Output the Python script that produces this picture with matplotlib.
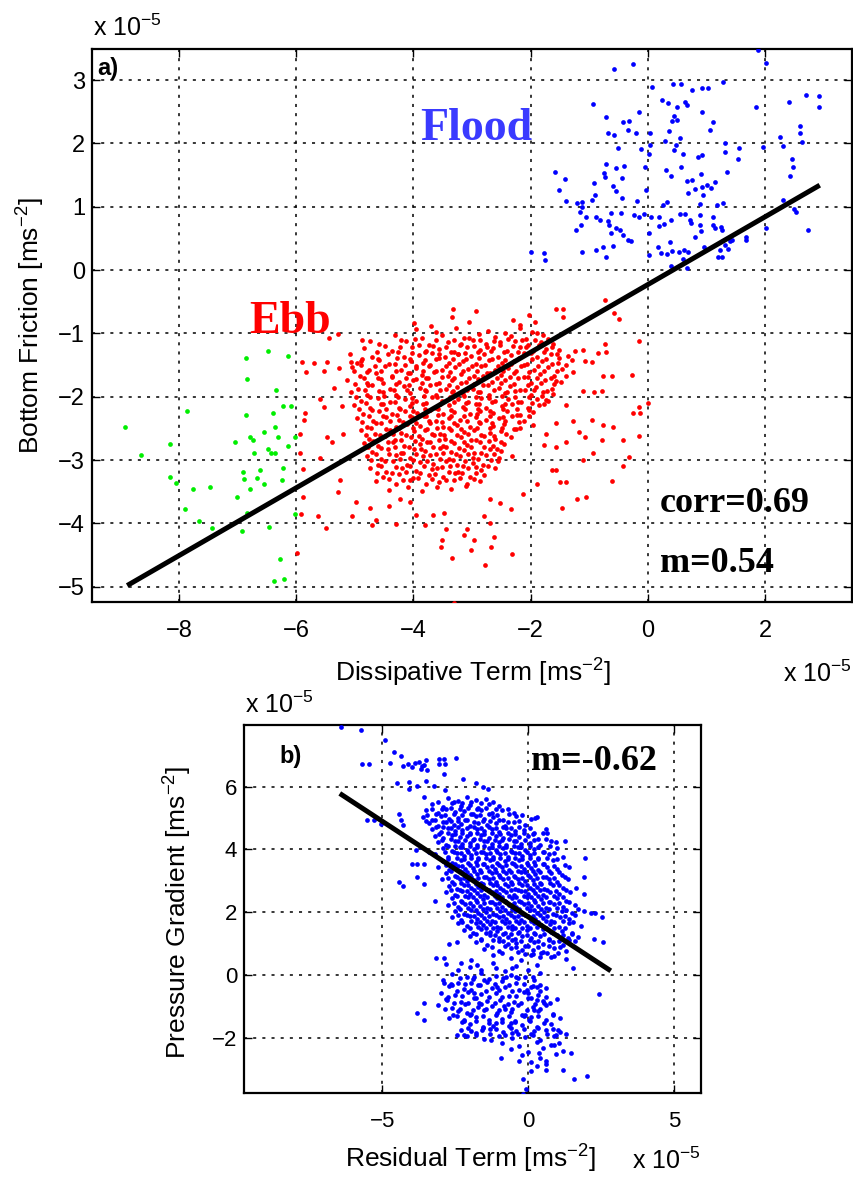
import matplotlib
matplotlib.use("Agg")
import matplotlib.pyplot as plt

plt.rcParams['font.family'] = ['Liberation Sans', 'DejaVu Sans']
plt.rcParams['mathtext.fontset'] = 'custom'
plt.rcParams['mathtext.rm'] = 'Liberation Sans'
plt.rcParams['mathtext.it'] = 'Liberation Sans:italic'
plt.rcParams['mathtext.bf'] = 'Liberation Sans:bold'

# ---------------- panel a data (units of 1e-5 m s^-2) ----------------
flood_pts = [
    (1.88, 3.48), (2.02, 3.27), (-0.58, 3.17), (-0.25, 3.26), (0.07, 2.89), (0.43, 2.93), (0.56, 2.93),
    (0.76, 2.85), (0.92, 2.88), (1.02, 2.87), (1.28, 2.97), (-0.93, 2.62), (0.24, 2.68), (0.34, 2.63),
    (0.50, 2.58), (0.63, 2.65), (0.66, 2.60), (0.92, 2.49), (1.84, 2.57), (2.40, 2.66), (2.70, 2.76),
    (2.91, 2.75), (2.91, 2.58), (-0.72, 2.42), (-0.15, 2.49), (-0.42, 2.34), (-0.33, 2.36), (-0.34, 2.21),
    (-0.68, 2.16), (-0.58, 2.13), (-0.21, 2.16), (0.03, 2.17), (0.41, 2.36), (0.49, 2.37), (0.44, 2.44),
    (0.36, 2.19), (1.11, 2.34), (1.06, 2.21), (0.55, 2.09), (0.29, 2.04), (0.48, 1.98), (0.44, 1.89),
    (0.59, 1.83), (0.03, 1.97), (0.02, 1.83), (-0.12, 1.91), (-0.51, 1.93), (1.31, 2.01), (1.32, 1.86),
    (1.56, 1.92), (1.54, 1.75), (0.85, 1.79), (0.92, 1.82), (1.97, 1.95), (2.25, 2.10), (2.31, 1.96),
    (2.60, 2.28), (2.59, 2.17), (2.63, 2.02), (2.45, 1.75), (2.48, 1.63), (2.43, 1.48), (-1.58, 1.55),
    (-1.42, 1.44), (-1.51, 1.26), (-1.40, 1.09), (-1.21, 1.06), (-1.13, 1.08), (-1.13, 0.99), (-1.16, 0.91),
    (-1.06, 0.83), (-1.23, 0.63), (-1.14, 0.71), (-1.12, 0.29), (-0.96, 1.11), (-0.91, 1.19), (-0.92, 1.38),
    (-0.75, 1.53), (-0.71, 1.67), (-0.73, 1.47), (-0.55, 1.61), (-0.59, 1.32), (-0.55, 1.25), (-0.45, 1.46),
    (-0.40, 1.65), (-0.44, 1.13), (-0.18, 1.09), (-0.05, 1.62), (-0.03, 1.26), (-0.88, 0.83), (-0.81, 0.79),
    (-0.68, 0.78), (-0.63, 0.90), (-0.46, 0.90), (-0.67, 0.71), (-0.54, 0.67), (-0.63, 0.58), (-0.48, 0.64),
    (-0.42, 0.55), (-0.34, 0.47), (-0.29, 0.46), (-0.88, 0.31), (-0.76, 0.37), (-0.60, 0.38), (-0.71, 0.21),
    (-0.24, 0.87), (-0.16, 0.84), (-0.06, 0.88), (0.02, 0.58), (0.02, 0.24), (-1.77, 0.27), (-1.75, 0.16),
    (-2.00, 0.28), (0.31, 1.58), (0.40, 1.49), (0.57, 1.63), (0.66, 1.41), (0.76, 1.42), (0.69, 1.21),
    (0.80, 1.28), (0.90, 1.51), (0.92, 1.31), (1.00, 1.34), (1.07, 1.30), (1.15, 1.39), (0.94, 1.19),
    (1.34, 1.55), (0.25, 1.02), (0.32, 1.07), (0.06, 0.84), (0.19, 0.84), (0.28, 0.72), (0.19, 0.70),
    (0.39, 0.79), (0.54, 0.88), (0.64, 0.89), (0.71, 0.79), (0.74, 0.75), (0.88, 1.05), (0.88, 0.87),
    (0.89, 0.71), (0.81, 0.52), (0.90, 0.62), (1.11, 0.83), (1.11, 0.71), (1.17, 1.03), (1.28, 1.06),
    (1.15, 0.66), (1.25, 0.68), (1.27, 0.63), (0.38, 0.45), (0.18, 0.37), (0.22, 0.27), (0.33, 0.25),
    (0.41, 0.30), (0.53, 0.29), (0.61, 0.32), (0.68, 0.29), (0.60, 0.18), (0.67, 0.04), (0.40, 0.06),
    (0.95, 0.36), (1.23, 0.31), (1.19, 0.21), (1.27, 0.21), (1.32, 0.40), (1.40, 0.46), (1.44, 0.47),
    (1.37, 0.34), (1.68, 0.52), (1.68, 0.47), (2.02, 0.66), (2.30, 1.11), (2.49, 0.96), (2.52, 0.91),
    (2.73, 0.63),
]

green_pts = [
    (-6.48, -1.28), (-6.85, -1.39), (-6.13, -1.36), (-6.84, -1.72), (-6.35, -1.90), (-7.86, -2.23),
    (-6.85, -2.29), (-6.39, -2.26), (-6.22, -2.15), (-6.09, -2.14), (-8.91, -2.48), (-6.36, -2.48),
    (-6.54, -2.56), (-6.78, -2.63), (-6.73, -2.69), (-6.30, -2.63), (-6.02, -2.63), (-7.04, -2.72),
    (-8.15, -2.74), (-6.14, -2.77), (-6.48, -2.83), (-6.43, -2.88), (-6.36, -2.88), (-6.72, -2.88),
    (-8.64, -2.92), (-6.23, -3.12), (-6.91, -3.18), (-6.62, -3.16), (-8.15, -3.26), (-8.05, -3.36),
    (-6.88, -3.30), (-6.67, -3.29), (-6.24, -3.31), (-6.54, -3.37), (-6.79, -3.46), (-7.75, -3.46),
    (-7.47, -3.42), (-7.00, -3.58), (-7.90, -3.77), (-6.84, -3.84), (-6.02, -3.85), (-7.66, -3.96),
    (-7.44, -4.07), (-6.92, -4.12), (-6.47, -4.05), (-6.27, -4.56), (-6.37, -4.91), (-6.21, -4.87),
]

ebb_edge_pts = [
    (-3.32, -0.62), (-2.94, -0.64), (-3.99, -0.84), (-3.34, -0.74), (-2.03, -0.71), (-1.56, -0.61),
    (-1.44, -0.61), (-1.44, -0.74), (-0.74, -0.47), (-0.58, -0.68), (-0.50, -0.78), (-0.15, -1.12),
    (-2.30, -0.79), (-2.18, -0.87), (-1.93, -0.82), (-1.90, -1.00), (-3.70, -0.88), (-3.05, -0.82),
    (-5.90, -1.45), (-5.70, -1.47), (-5.47, -1.45), (-5.83, -1.61), (-5.52, -1.59), (-5.26, -1.54),
    (-5.06, -1.45), (-4.90, -1.44), (-4.88, -1.11), (-4.74, -1.12), (-5.29, -1.01), (-5.44, -1.08),
    (-5.36, -1.86), (-5.60, -2.04), (-5.53, -2.16), (-5.85, -2.25), (-5.87, -2.37), (-5.94, -2.59),
    (-5.48, -2.64), (-5.39, -2.71), (-5.94, -2.89), (-5.60, -2.97), (-5.88, -3.14), (-5.89, -3.58),
    (-5.91, -3.85), (-5.62, -3.88), (-5.49, -4.07), (-5.99, -4.47), (-5.22, -2.14), (-5.20, -2.59),
    (-5.25, -3.31), (-5.28, -3.51), (-4.97, -3.66), (-5.05, -3.89), (-4.71, -4.03), (-4.64, -3.95),
    (-4.74, -3.76), (-4.42, -3.73), (-4.30, -4.01), (-4.23, -3.62), (-4.06, -3.66), (-3.95, -3.87),
    (-3.80, -4.02), (-3.67, -3.87), (-3.48, -3.84), (-3.45, -4.09), (-3.52, -4.26), (-3.53, -4.37),
    (-3.34, -4.55), (-3.14, -4.18), (-3.09, -4.09), (-2.97, -4.26), (-3.01, -4.42), (-2.78, -4.66),
    (-2.67, -4.37), (-2.63, -4.21), (-2.69, -4.00), (-2.79, -3.88), (-2.31, -4.49), (-2.34, -3.77),
    (-2.52, -3.68), (-2.69, -3.61), (-2.13, -3.53), (-1.90, -3.38), (-1.47, -3.76), (-1.50, -3.35),
    (-1.39, -3.35), (-1.21, -3.62), (-1.05, -3.59), (-0.61, -3.33), (-3.31, -5.26), (-1.10, -3.00),
    (-0.93, -2.89), (-0.42, -3.09), (-0.32, -2.95), (-0.43, -2.69), (-0.15, -2.62), (-0.76, -2.44),
    (-0.60, -2.47), (-0.96, -2.36), (-1.17, -2.55), (-1.07, -2.63), (-0.79, -2.68), (-1.40, -2.71),
    (-1.56, -2.79), (-0.26, -2.25), (-0.15, -2.16), (-0.13, -2.25), (0.00, -2.10), (-0.28, -1.66),
    (-0.79, -1.91), (-0.92, -1.92), (-1.10, -1.91), (-0.76, -1.68), (-0.62, -1.67), (-0.73, -1.16),
    (-0.71, -1.29), (-1.10, -1.26), (-1.24, -1.27), (-0.96, -1.45), (-0.85, -1.31), (-1.27, -1.61),
    (-1.07, -1.44), (-1.39, -1.68), (-1.56, -1.75), (-1.62, -1.95), (-1.73, -2.05), (-1.39, -2.13),
    (-1.56, -2.42), (-1.27, -2.39), (-1.74, -2.58), (-1.78, -2.76), (-1.64, -3.15), (-1.56, -3.15),
]

ebb_core_pts = [
    (-3.95, -0.93), (-3.62, -0.98), (-3.28, -0.91), (-2.72, -0.96), (-2.43, -0.99), (-2.18, -0.92), (-1.97, -0.97),
    (-4.32, -1.03), (-3.86, -1.08), (-3.51, -1.02), (-3.14, -1.07), (-2.88, -1.01), (-2.61, -1.06), (-2.33, -1.04),
    (-2.08, -1.09), (-1.79, -1.02),
    (-4.58, -1.17), (-4.12, -1.12), (-3.74, -1.18), (-3.41, -1.13), (-3.19, -1.16), (-2.98, -1.11), (-2.76, -1.17),
    (-2.52, -1.14), (-2.27, -1.12), (-2.04, -1.18), (-1.83, -1.13), (-1.62, -1.16),
    (-4.84, -1.23), (-4.36, -1.28), (-4.02, -1.22), (-3.79, -1.27), (-3.56, -1.24), (-3.31, -1.29), (-3.09, -1.21),
    (-2.86, -1.26), (-2.64, -1.23), (-2.41, -1.28), (-2.19, -1.22), (-1.96, -1.27), (-1.74, -1.24), (-1.51, -1.26),
    (-5.08, -1.33), (-4.71, -1.38), (-4.44, -1.32), (-4.16, -1.37), (-3.91, -1.34), (-3.69, -1.31), (-3.46, -1.38),
    (-3.24, -1.33), (-3.01, -1.36), (-2.79, -1.32), (-2.56, -1.37), (-2.34, -1.34), (-2.11, -1.31), (-1.89, -1.38),
    (-1.66, -1.33), (-1.36, -1.36),
    (-4.96, -1.47), (-4.58, -1.42), (-4.31, -1.48), (-4.04, -1.43), (-3.84, -1.46), (-3.61, -1.41), (-3.39, -1.47),
    (-3.16, -1.44), (-2.94, -1.48), (-2.71, -1.42), (-2.49, -1.46), (-2.29, -1.43), (-2.06, -1.49), (-1.81, -1.44),
    (-1.54, -1.47), (-1.29, -1.42),
    (-5.04, -1.53), (-4.76, -1.58), (-4.49, -1.52), (-4.21, -1.57), (-3.96, -1.54), (-3.74, -1.51), (-3.51, -1.58),
    (-3.29, -1.53), (-3.06, -1.56), (-2.84, -1.52), (-2.61, -1.57), (-2.39, -1.54), (-2.16, -1.51), (-1.94, -1.58),
    (-1.71, -1.53), (-1.46, -1.56),
    (-4.91, -1.67), (-4.64, -1.62), (-4.36, -1.68), (-4.09, -1.63), (-3.86, -1.66), (-3.64, -1.61), (-3.41, -1.67),
    (-3.19, -1.64), (-2.96, -1.68), (-2.74, -1.62), (-2.51, -1.66), (-2.29, -1.63), (-2.04, -1.69), (-1.84, -1.64),
    (-1.61, -1.67),
    (-5.14, -1.73), (-4.79, -1.78), (-4.56, -1.72), (-4.24, -1.77), (-4.01, -1.74), (-3.79, -1.71), (-3.56, -1.78),
    (-3.34, -1.73), (-3.11, -1.76), (-2.89, -1.72), (-2.66, -1.77), (-2.44, -1.74), (-2.21, -1.71), (-1.99, -1.78),
    (-1.76, -1.73), (-1.49, -1.76),
    (-4.94, -1.87), (-4.71, -1.82), (-4.39, -1.88), (-4.16, -1.83), (-3.89, -1.86), (-3.71, -1.81), (-3.44, -1.87),
    (-3.26, -1.84), (-2.99, -1.88), (-2.81, -1.82), (-2.54, -1.86), (-2.36, -1.83), (-2.09, -1.89), (-1.91, -1.84),
    (-1.64, -1.87),
    (-5.06, -1.93), (-4.79, -1.98), (-4.51, -1.92), (-4.29, -1.97), (-4.06, -1.94), (-3.79, -1.91), (-3.61, -1.98),
    (-3.34, -1.93), (-3.16, -1.96), (-2.89, -1.92), (-2.71, -1.97), (-2.44, -1.94), (-2.26, -1.91), (-1.99, -1.98),
    (-1.79, -1.93),
    (-4.89, -2.07), (-4.61, -2.02), (-4.39, -2.08), (-4.14, -2.03), (-3.96, -2.06), (-3.69, -2.01), (-3.51, -2.07),
    (-3.24, -2.04), (-3.06, -2.08), (-2.84, -2.02), (-2.61, -2.06), (-2.39, -2.03), (-2.16, -2.09), (-1.89, -2.04),
    (-1.71, -2.07),
    (-5.01, -2.13), (-4.74, -2.18), (-4.51, -2.12), (-4.24, -2.17), (-4.06, -2.14), (-3.84, -2.11), (-3.61, -2.18),
    (-3.39, -2.13), (-3.16, -2.16), (-2.94, -2.12), (-2.76, -2.17), (-2.49, -2.14), (-2.31, -2.11), (-2.04, -2.18),
    (-1.86, -2.13),
    (-4.86, -2.27), (-4.59, -2.22), (-4.36, -2.28), (-4.14, -2.23), (-3.94, -2.26), (-3.71, -2.21), (-3.49, -2.27),
    (-3.31, -2.24), (-3.04, -2.28), (-2.86, -2.22), (-2.64, -2.26), (-2.41, -2.23), (-2.19, -2.29), (-1.96, -2.24),
    (-4.96, -2.33), (-4.69, -2.38), (-4.46, -2.32), (-4.24, -2.37), (-4.01, -2.34), (-3.79, -2.31), (-3.61, -2.38),
    (-3.39, -2.33), (-3.21, -2.36), (-2.94, -2.32), (-2.76, -2.37), (-2.54, -2.34), (-2.31, -2.31), (-2.11, -2.38),
    (-4.79, -2.47), (-4.56, -2.42), (-4.29, -2.48), (-4.11, -2.43), (-3.89, -2.46), (-3.71, -2.41), (-3.49, -2.47),
    (-3.26, -2.44), (-3.04, -2.48), (-2.86, -2.42), (-2.64, -2.46), (-2.46, -2.43), (-2.19, -2.49), (-1.96, -2.44),
    (-4.89, -2.53), (-4.66, -2.58), (-4.39, -2.52), (-4.21, -2.57), (-3.99, -2.54), (-3.76, -2.51), (-3.54, -2.58),
    (-3.36, -2.53), (-3.14, -2.56), (-2.96, -2.52), (-2.69, -2.57), (-2.51, -2.54), (-2.29, -2.51),
    (-4.76, -2.67), (-4.49, -2.62), (-4.31, -2.68), (-4.04, -2.63), (-3.86, -2.66), (-3.64, -2.61), (-3.46, -2.67),
    (-3.19, -2.64), (-3.01, -2.68), (-2.79, -2.62), (-2.61, -2.66), (-2.34, -2.63),
    (-4.84, -2.73), (-4.61, -2.78), (-4.34, -2.72), (-4.16, -2.77), (-3.89, -2.74), (-3.71, -2.71), (-3.49, -2.78),
    (-3.31, -2.73), (-3.09, -2.76), (-2.86, -2.72), (-2.64, -2.77), (-2.46, -2.74),
    (-4.71, -2.87), (-4.44, -2.82), (-4.21, -2.88), (-3.99, -2.83), (-3.81, -2.86), (-3.54, -2.81), (-3.36, -2.87),
    (-3.14, -2.84), (-2.96, -2.88), (-2.69, -2.82), (-2.51, -2.86),
    (-4.79, -2.93), (-4.56, -2.98), (-4.29, -2.92), (-4.06, -2.97), (-3.84, -2.94), (-3.61, -2.91), (-3.39, -2.98),
    (-3.21, -2.93), (-2.99, -2.96), (-2.76, -2.92), (-2.54, -2.97), (-2.31, -2.94),
    (-4.61, -3.07), (-4.34, -3.02), (-4.11, -3.08), (-3.89, -3.03), (-3.66, -3.06), (-3.44, -3.01), (-3.26, -3.07),
    (-2.99, -3.04), (-2.81, -3.08), (-2.56, -3.02),
    (-4.74, -3.13), (-4.46, -3.18), (-4.19, -3.12), (-3.96, -3.17), (-3.69, -3.14), (-3.51, -3.11), (-3.24, -3.18),
    (-3.06, -3.13), (-2.84, -3.16), (-2.61, -3.12),
    (-4.51, -3.27), (-4.24, -3.22), (-4.01, -3.28), (-3.74, -3.23), (-3.49, -3.26), (-3.29, -3.21), (-3.04, -3.27),
    (-2.79, -3.24),
    (-4.64, -3.33), (-4.29, -3.38), (-4.06, -3.32), (-3.79, -3.37), (-3.56, -3.34), (-3.31, -3.31), (-3.09, -3.38),
    (-2.86, -3.33),
    (-4.41, -3.47), (-4.09, -3.42), (-3.86, -3.48), (-3.59, -3.43), (-3.36, -3.46), (-3.11, -3.41),
    (-3.80, -1.30), (-3.57, -1.32), (-3.35, -1.29), (-3.12, -1.31), (-2.90, -1.30), (-2.68, -1.28),
    (-3.72, -1.50), (-3.45, -1.52), (-3.22, -1.49), (-3.00, -1.51), (-2.78, -1.50), (-2.55, -1.52),
    (-3.75, -1.70), (-3.52, -1.69), (-3.30, -1.71), (-3.05, -1.70), (-2.82, -1.68), (-2.58, -1.71), (-2.35, -1.69),
    (-3.80, -1.90), (-3.55, -1.89), (-3.32, -1.91), (-3.08, -1.90), (-2.86, -1.92), (-2.62, -1.89),
    (-3.78, -2.10), (-3.55, -2.11), (-3.30, -2.09), (-3.10, -2.10), (-2.88, -2.12), (-2.66, -2.09),
    (-3.82, -2.30), (-3.58, -2.29), (-3.36, -2.31), (-3.14, -2.30), (-2.91, -2.28), (-2.69, -2.31),
    (-3.60, -2.50), (-3.39, -2.49), (-3.18, -2.51), (-2.92, -2.50),
]

ebb_fill_pts = [
    (-4.21, -1.10), (-3.98, -1.09), (-3.62, -1.11), (-3.30, -1.10), (-3.05, -1.08), (-2.86, -1.10), (-2.63, -1.12),
    (-2.39, -1.09), (-2.15, -1.10), (-1.92, -1.11), (-1.71, -1.09),
    (-4.49, -1.20), (-4.23, -1.21), (-3.91, -1.19), (-3.67, -1.20), (-3.44, -1.22), (-3.21, -1.19), (-2.97, -1.20),
    (-2.74, -1.21), (-2.53, -1.19), (-2.30, -1.20), (-2.08, -1.22), (-1.86, -1.19), (-1.64, -1.21),
    (-4.62, -1.30), (-4.27, -1.29), (-4.03, -1.31), (-3.24, -1.32), (-2.46, -1.30), (-2.22, -1.29), (-2.00, -1.31),
    (-1.77, -1.30), (-1.55, -1.32),
    (-4.88, -1.40), (-4.60, -1.41), (-4.28, -1.39), (-4.05, -1.40), (-3.80, -1.42), (-3.57, -1.39), (-3.33, -1.40),
    (-3.10, -1.41), (-2.88, -1.39), (-2.66, -1.40), (-2.43, -1.42), (-2.20, -1.39), (-1.97, -1.40), (-1.74, -1.41),
    (-1.52, -1.39),
    (-4.90, -1.50), (-4.66, -1.51), (-4.41, -1.49), (-4.15, -1.50), (-3.95, -1.52), (-2.33, -1.49), (-2.11, -1.50),
    (-1.88, -1.51), (-1.63, -1.49), (-1.40, -1.50),
    (-5.02, -1.60), (-4.79, -1.61), (-4.55, -1.59), (-4.30, -1.60), (-4.05, -1.62), (-3.83, -1.59), (-3.61, -1.60),
    (-3.38, -1.61), (-3.15, -1.59), (-2.92, -1.60), (-2.70, -1.62), (-2.47, -1.59), (-2.25, -1.60), (-2.02, -1.61),
    (-1.78, -1.59), (-1.55, -1.60),
    (-4.85, -1.70), (-4.60, -1.71), (-4.37, -1.69), (-4.12, -1.70), (-3.95, -1.72), (-2.12, -1.69), (-1.90, -1.70),
    (-1.66, -1.71),
    (-5.00, -1.80), (-4.77, -1.81), (-4.51, -1.79), (-4.29, -1.80), (-4.08, -1.82), (-3.85, -1.79), (-3.62, -1.80),
    (-3.40, -1.81), (-3.18, -1.79), (-2.96, -1.80), (-2.73, -1.82), (-2.50, -1.79), (-2.28, -1.80), (-2.05, -1.81),
    (-1.83, -1.79), (-1.60, -1.80),
    (-4.82, -1.90), (-4.58, -1.91), (-4.33, -1.89), (-4.10, -1.90), (-2.40, -1.92), (-2.18, -1.89), (-1.95, -1.90),
    (-1.72, -1.91),
    (-4.98, -2.00), (-4.74, -2.01), (-4.50, -1.99), (-4.27, -2.00), (-4.03, -2.02), (-3.82, -1.99), (-3.60, -2.00),
    (-3.38, -2.01), (-3.14, -1.99), (-2.93, -2.00), (-2.71, -2.02), (-2.49, -1.99), (-2.27, -2.00), (-2.03, -2.01),
    (-1.80, -1.99),
    (-4.80, -2.10), (-4.56, -2.11), (-4.31, -2.09), (-4.03, -2.10), (-2.44, -2.12), (-2.21, -2.09), (-1.98, -2.10),
    (-1.77, -2.11),
    (-4.93, -2.20), (-4.70, -2.21), (-4.46, -2.19), (-4.23, -2.20), (-4.01, -2.22), (-3.80, -2.19), (-3.58, -2.20),
    (-3.35, -2.21), (-3.12, -2.19), (-2.90, -2.20), (-2.69, -2.22), (-2.47, -2.19), (-2.24, -2.20), (-2.02, -2.21),
    (-4.75, -2.30), (-4.52, -2.31), (-4.28, -2.29), (-4.05, -2.30), (-2.47, -2.32), (-2.24, -2.29), (-2.02, -2.30),
    (-4.88, -2.40), (-4.64, -2.41), (-4.40, -2.39), (-4.18, -2.40), (-3.95, -2.42), (-3.74, -2.39), (-3.52, -2.40),
    (-3.31, -2.41), (-3.09, -2.39), (-2.88, -2.40), (-2.66, -2.42), (-2.43, -2.39), (-2.20, -2.40),
    (-4.72, -2.50), (-4.47, -2.51), (-4.24, -2.49), (-4.00, -2.50), (-3.80, -2.52), (-2.70, -2.49), (-2.48, -2.50),
    (-2.25, -2.51),
    (-4.81, -2.60), (-4.57, -2.61), (-4.34, -2.59), (-4.12, -2.60), (-3.90, -2.62), (-3.69, -2.59), (-3.48, -2.60),
    (-3.26, -2.61), (-3.06, -2.59), (-2.85, -2.60), (-2.63, -2.62), (-2.42, -2.59),
    (-4.68, -2.70), (-4.43, -2.71), (-4.21, -2.69), (-3.98, -2.70), (-3.77, -2.72), (-3.56, -2.69), (-3.35, -2.70),
    (-3.13, -2.71), (-2.93, -2.69), (-2.71, -2.70), (-2.50, -2.72),
    (-4.78, -2.80), (-4.55, -2.81), (-4.32, -2.79), (-4.08, -2.80), (-3.87, -2.82), (-3.66, -2.79), (-3.44, -2.80),
    (-3.22, -2.81), (-3.02, -2.79), (-2.80, -2.80), (-2.58, -2.82),
    (-4.64, -2.90), (-4.41, -2.91), (-4.17, -2.89), (-3.95, -2.90), (-3.72, -2.92), (-3.49, -2.89), (-3.28, -2.90),
    (-3.07, -2.91), (-2.85, -2.89), (-2.63, -2.90),
    (-4.72, -3.00), (-4.49, -3.01), (-4.23, -2.99), (-4.00, -3.00), (-3.77, -3.02), (-3.55, -2.99), (-3.33, -3.00),
    (-3.12, -3.01), (-2.90, -2.99), (-2.68, -3.00),
    (-4.55, -3.10), (-4.30, -3.11), (-4.06, -3.09), (-3.82, -3.10), (-3.60, -3.12), (-3.38, -3.09), (-3.16, -3.10),
    (-2.94, -3.11), (-2.72, -3.09),
    (-4.62, -3.20), (-4.37, -3.21), (-4.13, -3.19), (-3.88, -3.20), (-3.63, -3.22), (-3.40, -3.19), (-3.17, -3.20),
    (-2.93, -3.21),
    (-4.41, -3.30), (-4.17, -3.31), (-3.92, -3.29), (-3.68, -3.30), (-3.44, -3.32), (-3.20, -3.29), (-2.97, -3.30),
]

fit_a_x = [-8.88, 2.93]
fit_a_y = [-4.98, 1.34]

# ---------------- panel b data ----------------
pg_edge_pts = [
    (-6.42, 7.90), (-5.74, 7.80), (-4.91, 7.48), (-4.59, 7.09), (-5.68, 6.72), (-5.45, 6.72), (-4.74, 6.74),
    (-4.37, 6.98), (-4.27, 6.67), (-4.11, 6.72), (-3.97, 6.63), (-3.86, 6.74), (-3.74, 6.77), (-3.65, 6.67),
    (-3.51, 6.83), (-3.45, 6.53), (-3.68, 6.56), (-3.57, 6.70), (-3.05, 6.88), (-2.88, 6.88), (-3.05, 6.72),
    (-2.85, 6.72), (-2.48, 6.91), (-2.88, 6.40), (-4.48, 6.11), (-4.08, 6.14), (-4.08, 5.93), (-3.79, 6.03),
    (-3.49, 6.19), (-3.22, 6.03), (-2.86, 5.89), (-2.22, 6.24), (-1.79, 6.12), (-1.53, 5.98), (-1.36, 5.93),
    (-3.57, 5.66), (-5.51, 4.92), (-5.28, 4.92), (-5.05, 4.81), (-4.42, 5.11), (-4.37, 4.92), (-4.27, 4.76),
    (-3.97, 3.54), (-3.79, 3.52), (-3.57, 3.54), (-4.42, 2.96), (-4.30, 2.83), (-3.79, 3.12), (-3.57, 2.91),
    (-3.19, 2.35), (-3.68, 4.07), (-3.85, 3.97), (-3.39, 3.92), (0.24, 5.00), (0.32, 5.03), (0.64, 4.52),
    (0.97, 4.23), (1.27, 4.26), (1.95, 3.74), (1.92, 3.12), (1.63, 2.77), (1.92, 2.59), (2.15, 1.98),
    (2.30, 1.98), (2.53, 1.85), (2.58, 1.06), (2.24, 1.13), (2.41, -0.61), (1.29, 0.50), (1.52, 0.21),
    (1.01, 0.69), (0.78, 0.58), (-3.17, 0.53), (-2.88, 0.53), (-2.71, 1.00), (-2.42, 1.06), (-3.79, -1.22),
    (-3.57, -1.43), (-3.57, -0.88), (-2.88, -0.26), (-2.59, -0.32), (-2.77, -0.79), (-2.56, -1.27),
    (-2.42, -1.90), (-2.19, -1.90), (-1.97, -1.80), (-2.19, -1.48), (-2.08, -1.22), (-1.97, -0.26),
    (-1.85, -0.58), (-1.68, -0.90), (-1.51, -0.16), (-1.57, -1.75), (-1.28, -2.06), (-1.22, -1.64),
    (-1.05, -0.37), (-0.94, -2.65), (-0.82, -1.00), (-0.59, -1.53), (-0.54, -1.85), (-0.31, -2.75),
    (-0.19, -3.33), (-0.08, -3.63), (-0.16, -3.80), (0.09, -3.07), (0.32, -2.91), (0.38, -2.49), (0.61, -2.75),
    (0.61, -3.02), (1.01, -1.75), (0.95, -1.90), (0.89, -2.22), (1.06, -2.17), (1.29, -1.87), (1.46, -2.49),
    (1.58, -3.31), (2.03, -3.21), (1.18, -3.02), (0.21, -1.80), (0.03, -1.43), (-0.14, -1.32), (0.21, -1.11),
    (0.32, -0.37), (0.09, -0.37), (-0.02, -0.58), (0.32, -0.79), (0.55, -0.90), (-0.42, -0.05), (-0.77, -0.05),
    (-1.11, 0.21), (-1.74, 0.32), (-2.31, 0.37), (-1.97, 0.48), (-0.54, 0.21), (-0.25, 0.48), (0.09, 0.63),
    (0.43, 0.69),
]

pg_core_pts = [
    (-2.75, 5.63), (-2.40, 5.55), (-2.10, 5.67), (-1.80, 5.58), (-1.45, 5.61),
    (-3.30, 5.44), (-2.90, 5.35), (-2.60, 5.47), (-2.30, 5.38), (-2.00, 5.41), (-1.70, 5.33), (-1.35, 5.45), (-1.00, 5.37),
    (-3.50, 5.24), (-3.10, 5.15), (-2.80, 5.27), (-2.50, 5.18), (-2.20, 5.21), (-1.90, 5.13), (-1.60, 5.25), (-1.25, 5.17),
    (-0.90, 5.24), (-0.50, 5.15),
    (-3.60, 5.04), (-3.30, 4.95), (-3.00, 5.07), (-2.70, 4.98), (-2.40, 5.01), (-2.10, 4.93), (-1.80, 5.05), (-1.50, 4.97),
    (-1.20, 5.04), (-0.85, 4.95), (-0.40, 5.07), (0.10, 4.98),
    (-3.40, 4.84), (-3.10, 4.75), (-2.80, 4.87), (-2.55, 4.78), (-2.30, 4.81), (-2.00, 4.73), (-1.70, 4.85), (-1.40, 4.77),
    (-1.10, 4.84), (-0.80, 4.75), (-0.50, 4.87), (-0.10, 4.78),
    (-3.30, 4.64), (-3.00, 4.55), (-2.75, 4.67), (-2.50, 4.58), (-2.25, 4.61), (-2.00, 4.53), (-1.75, 4.65), (-1.50, 4.57),
    (-1.25, 4.64), (-1.00, 4.55), (-0.75, 4.67), (-0.45, 4.58), (-0.15, 4.61), (0.20, 4.53), (0.60, 4.65),
    (-3.20, 4.44), (-2.90, 4.35), (-2.60, 4.47), (-2.35, 4.38), (-2.10, 4.41), (-1.85, 4.33), (-1.60, 4.45), (-1.35, 4.37),
    (-1.10, 4.44), (-0.85, 4.35), (-0.60, 4.47), (-0.30, 4.38), (0.00, 4.41), (0.35, 4.33),
    (-3.10, 4.24), (-2.80, 4.15), (-2.50, 4.27), (-2.25, 4.18), (-2.00, 4.21), (-1.75, 4.13), (-1.50, 4.25), (-1.25, 4.17),
    (-1.00, 4.24), (-0.75, 4.15), (-0.50, 4.27), (-0.25, 4.18), (0.05, 4.21), (0.40, 4.13), (0.80, 4.25),
    (-2.90, 4.04), (-2.60, 3.95), (-2.35, 4.07), (-2.10, 3.98), (-1.85, 4.01), (-1.60, 3.93), (-1.35, 4.05), (-1.10, 3.97),
    (-0.85, 4.04), (-0.60, 3.95), (-0.35, 4.07), (-0.10, 3.98), (0.20, 4.01), (0.55, 3.93), (1.00, 4.05),
    (-3.20, 3.84), (-2.75, 3.75), (-2.45, 3.87), (-2.20, 3.78), (-1.95, 3.81), (-1.70, 3.73), (-1.45, 3.85), (-1.20, 3.77),
    (-0.95, 3.84), (-0.70, 3.75), (-0.45, 3.87), (-0.20, 3.78), (0.05, 3.81), (0.35, 3.73), (0.70, 3.85), (1.20, 3.77),
    (-2.90, 3.64), (-2.60, 3.55), (-2.30, 3.67), (-2.05, 3.58), (-1.80, 3.61), (-1.55, 3.53), (-1.30, 3.65), (-1.05, 3.57),
    (-0.80, 3.64), (-0.55, 3.55), (-0.30, 3.67), (-0.05, 3.58), (0.20, 3.61), (0.50, 3.53), (0.85, 3.65),
    (-3.10, 3.44), (-2.70, 3.35), (-2.40, 3.47), (-2.15, 3.38), (-1.90, 3.41), (-1.65, 3.33), (-1.40, 3.45), (-1.15, 3.37),
    (-0.90, 3.44), (-0.65, 3.35), (-0.40, 3.47), (-0.15, 3.38), (0.10, 3.41), (0.35, 3.33), (0.65, 3.45), (1.00, 3.37),
    (1.40, 3.44),
    (-2.80, 3.24), (-2.50, 3.15), (-2.25, 3.27), (-2.00, 3.18), (-1.75, 3.21), (-1.50, 3.13), (-1.25, 3.25), (-1.00, 3.17),
    (-0.75, 3.24), (-0.50, 3.15), (-0.25, 3.27), (0.00, 3.18), (0.25, 3.21), (0.50, 3.13), (0.80, 3.25), (1.15, 3.17),
    (-2.95, 3.04), (-2.60, 2.95), (-2.35, 3.07), (-2.10, 2.98), (-1.85, 3.01), (-1.60, 2.93), (-1.35, 3.05), (-1.10, 2.97),
    (-0.85, 3.04), (-0.60, 2.95), (-0.35, 3.07), (-0.10, 2.98), (0.15, 3.01), (0.40, 2.93), (0.70, 3.05), (1.00, 2.97),
    (1.35, 3.04),
    (-2.70, 2.84), (-2.45, 2.75), (-2.20, 2.87), (-1.95, 2.78), (-1.70, 2.81), (-1.45, 2.73), (-1.20, 2.85), (-0.95, 2.77),
    (-0.70, 2.84), (-0.45, 2.75), (-0.20, 2.87), (0.05, 2.78), (0.30, 2.81), (0.55, 2.73), (0.85, 2.85), (1.20, 2.77),
    (-2.80, 2.64), (-2.50, 2.55), (-2.25, 2.67), (-2.00, 2.58), (-1.75, 2.61), (-1.50, 2.53), (-1.25, 2.65), (-1.00, 2.57),
    (-0.75, 2.64), (-0.50, 2.55), (-0.25, 2.67), (0.00, 2.58), (0.25, 2.61), (0.50, 2.53), (0.75, 2.65), (1.05, 2.57),
    (1.45, 2.64),
    (-2.60, 2.44), (-2.30, 2.35), (-2.05, 2.47), (-1.80, 2.38), (-1.55, 2.41), (-1.30, 2.33), (-1.05, 2.45), (-0.80, 2.37),
    (-0.55, 2.44), (-0.30, 2.35), (-0.05, 2.47), (0.20, 2.38), (0.45, 2.41), (0.70, 2.33), (1.00, 2.45), (1.30, 2.37),
    (-2.75, 2.24), (-2.40, 2.15), (-2.15, 2.27), (-1.90, 2.18), (-1.65, 2.21), (-1.40, 2.13), (-1.15, 2.25), (-0.90, 2.17),
    (-0.65, 2.24), (-0.40, 2.15), (-0.15, 2.27), (0.10, 2.18), (0.35, 2.21), (0.60, 2.13), (0.90, 2.25), (1.20, 2.17),
    (1.60, 2.24),
    (-2.50, 2.04), (-2.20, 1.95), (-1.95, 2.07), (-1.70, 1.98), (-1.45, 2.01), (-1.20, 1.93), (-0.95, 2.05), (-0.70, 1.97),
    (-0.45, 2.04), (-0.20, 1.95), (0.05, 2.07), (0.30, 1.98), (0.55, 2.01), (0.85, 1.93), (1.15, 2.05), (1.50, 1.97),
    (1.90, 2.04),
    (-2.60, 1.84), (-2.30, 1.75), (-2.00, 1.87), (-1.75, 1.78), (-1.50, 1.81), (-1.25, 1.73), (-1.00, 1.85), (-0.75, 1.77),
    (-0.50, 1.84), (-0.25, 1.75), (0.00, 1.87), (0.25, 1.78), (0.50, 1.81), (0.80, 1.73), (1.10, 1.85), (1.40, 1.77),
    (-2.40, 1.64), (-2.10, 1.55), (-1.80, 1.67), (-1.55, 1.58), (-1.30, 1.61), (-1.05, 1.53), (-0.80, 1.65), (-0.55, 1.57),
    (-0.30, 1.64), (-0.05, 1.55), (0.20, 1.67), (0.45, 1.58), (0.75, 1.61), (1.05, 1.53), (1.40, 1.65), (1.80, 1.57),
    (-2.20, 1.44), (-1.90, 1.35), (-1.60, 1.47), (-1.30, 1.38), (-1.05, 1.41), (-0.80, 1.33), (-0.55, 1.45), (-0.30, 1.37),
    (-0.05, 1.44), (0.20, 1.35), (0.50, 1.47), (0.80, 1.38), (1.15, 1.41), (1.50, 1.33),
    (-2.00, 1.24), (-1.60, 1.15), (-1.30, 1.27), (-1.00, 1.18), (-0.70, 1.21), (-0.45, 1.13), (-0.20, 1.25), (0.10, 1.17),
    (0.40, 1.24), (0.70, 1.15), (1.00, 1.27), (1.35, 1.18), (1.70, 1.21),
    (-1.80, 1.04), (-1.40, 0.95), (-1.00, 1.07), (-0.70, 0.98), (-0.40, 1.01), (-0.10, 0.93), (0.20, 1.05), (0.50, 0.97),
    (0.85, 1.04), (1.20, 0.95), (1.60, 1.07),
    (-1.50, 0.84), (-1.00, 0.75), (-0.60, 0.87), (-0.20, 0.78), (0.15, 0.81), (0.50, 0.73), (0.90, 0.85), (1.30, 0.77),
    (-1.20, 0.64), (-0.60, 0.55), (-0.10, 0.67), (0.40, 0.58), (0.90, 0.61),
    (-2.80, 0.34), (-2.00, 0.25), (-1.20, 0.37), (-0.40, 0.28), (0.30, 0.31),
    (-2.60, 0.04), (-2.10, -0.05), (-1.60, 0.07), (-1.10, -0.02), (-0.60, 0.01), (-0.10, -0.07), (0.40, 0.05),
    (-2.90, -0.16), (-2.40, -0.25), (-1.90, -0.13), (-1.40, -0.22), (-0.90, -0.19), (-0.40, -0.27), (0.20, -0.15),
    (-2.70, -0.36), (-2.20, -0.45), (-1.70, -0.33), (-1.25, -0.42), (-0.80, -0.39), (-0.30, -0.47), (0.15, -0.35), (0.60, -0.43),
    (-3.00, -0.56), (-2.50, -0.65), (-2.05, -0.53), (-1.60, -0.62), (-1.10, -0.59), (-0.65, -0.67), (-0.15, -0.55), (0.35, -0.63),
    (-2.80, -0.76), (-2.30, -0.85), (-1.85, -0.73), (-1.40, -0.82), (-0.95, -0.79), (-0.50, -0.87), (0.00, -0.75), (0.50, -0.83),
    (1.00, -0.76),
    (-3.10, -0.96), (-2.60, -1.05), (-2.15, -0.93), (-1.70, -1.02), (-1.25, -0.99), (-0.80, -1.07), (-0.35, -0.95), (0.15, -1.03),
    (0.60, -0.96),
    (-2.40, -1.16), (-1.95, -1.25), (-1.50, -1.13), (-1.05, -1.22), (-0.60, -1.19), (-0.10, -1.27), (0.35, -1.15), (0.85, -1.23),
    (-2.70, -1.36), (-2.20, -1.45), (-1.80, -1.33), (-1.35, -1.42), (-0.90, -1.39), (-0.45, -1.47), (0.10, -1.35), (0.60, -1.43),
    (1.10, -1.36),
    (-2.00, -1.56), (-1.55, -1.65), (-1.10, -1.53), (-0.65, -1.62), (-0.20, -1.59), (0.30, -1.67), (0.80, -1.55),
    (-2.30, -1.76), (-1.80, -1.85), (-1.30, -1.73), (-0.85, -1.82), (-0.40, -1.79), (0.10, -1.87), (0.60, -1.75), (1.10, -1.83),
    (-2.10, -1.96), (-1.50, -2.05), (-1.00, -1.93), (-0.55, -2.02), (-0.10, -1.99), (0.40, -2.07), (0.90, -1.95),
    (-0.90, -2.16), (-0.30, -2.25), (0.30, -2.13), (0.80, -2.22),
    (-0.60, -2.36), (0.00, -2.45), (0.50, -2.33), (1.20, -2.42),
    (-0.20, -2.56), (0.40, -2.65), (0.95, -2.53),
    (0.10, -2.76), (0.60, -2.85),
]

pg_fill_pts = [
    (-3.10, 5.50), (-2.55, 5.52), (-2.25, 5.48), (-1.95, 5.51), (-1.60, 5.49), (-1.20, 5.52),
    (-3.30, 5.30), (-2.95, 5.28), (-2.65, 5.31), (-2.35, 5.29), (-2.05, 5.32), (-1.75, 5.28), (-1.45, 5.31),
    (-1.10, 5.29), (-0.70, 5.30),
    (-3.45, 5.10), (-3.15, 5.12), (-2.85, 5.08), (-2.55, 5.11), (-2.25, 5.09), (-1.95, 5.12), (-1.65, 5.08),
    (-1.35, 5.11), (-1.05, 5.09), (-0.65, 5.12), (-0.20, 5.08),
    (-3.50, 4.90), (-3.20, 4.92), (-2.90, 4.88), (-2.65, 4.91), (-2.40, 4.89), (-2.15, 4.92), (-1.85, 4.88),
    (-1.55, 4.91), (-1.30, 4.89), (-1.00, 4.92), (-0.70, 4.88), (-0.30, 4.91),
    (-3.15, 4.70), (-2.90, 4.72), (-2.65, 4.68), (-2.40, 4.71), (-2.10, 4.69), (-1.85, 4.72), (-1.60, 4.68),
    (-1.35, 4.71), (-1.10, 4.69), (-0.85, 4.72), (-0.60, 4.68), (-0.30, 4.71), (0.05, 4.69),
    (-3.05, 4.50), (-2.75, 4.52), (-2.50, 4.48), (-2.25, 4.51), (-2.00, 4.49), (-1.75, 4.52), (-1.50, 4.48),
    (-1.25, 4.51), (-0.95, 4.49), (-0.70, 4.52), (-0.45, 4.48), (-0.15, 4.51), (0.15, 4.49), (0.50, 4.52),
    (-2.95, 4.30), (-2.65, 4.32), (-2.40, 4.28), (-2.15, 4.31), (-1.90, 4.29), (-1.65, 4.32), (-1.40, 4.28),
    (-1.15, 4.31), (-0.90, 4.29), (-0.65, 4.32), (-0.40, 4.28), (-0.10, 4.31), (0.20, 4.29), (0.60, 4.32),
    (-2.75, 4.10), (-2.50, 4.12), (-2.25, 4.08), (-2.00, 4.11), (-1.75, 4.09), (-1.50, 4.12), (-1.25, 4.08),
    (-1.00, 4.11), (-0.75, 4.09), (-0.50, 4.12), (-0.25, 4.08), (0.05, 4.11), (0.35, 4.09), (0.75, 4.12),
    (-2.85, 3.90), (-2.55, 3.92), (-2.30, 3.88), (-2.05, 3.91), (-1.80, 3.89), (-1.55, 3.92), (-1.30, 3.88),
    (-1.05, 3.91), (-0.80, 3.89), (-0.55, 3.92), (-0.30, 3.88), (-0.05, 3.91), (0.20, 3.89), (0.50, 3.92),
    (0.90, 3.88),
    (-2.75, 3.70), (-2.45, 3.72), (-2.20, 3.68), (-1.95, 3.71), (-1.70, 3.69), (-1.45, 3.72), (-1.20, 3.68),
    (-0.95, 3.71), (-0.70, 3.69), (-0.45, 3.72), (-0.20, 3.68), (0.05, 3.71), (0.35, 3.69), (0.65, 3.72),
    (1.00, 3.68),
    (-2.80, 3.50), (-2.50, 3.52), (-2.25, 3.48), (-2.00, 3.51), (-1.75, 3.49), (-1.50, 3.52), (-1.25, 3.48),
    (-1.00, 3.51), (-0.75, 3.49), (-0.50, 3.52), (-0.25, 3.48), (0.00, 3.51), (0.25, 3.49), (0.55, 3.52),
    (0.90, 3.48), (1.25, 3.51),
    (-2.65, 3.30), (-2.35, 3.32), (-2.10, 3.28), (-1.85, 3.31), (-1.60, 3.29), (-1.35, 3.32), (-1.10, 3.28),
    (-0.85, 3.31), (-0.60, 3.29), (-0.35, 3.32), (-0.10, 3.28), (0.15, 3.31), (0.40, 3.29), (0.70, 3.32),
    (1.05, 3.28),
    (-2.75, 3.10), (-2.45, 3.12), (-2.20, 3.08), (-1.95, 3.11), (-1.70, 3.09), (-1.45, 3.12), (-1.20, 3.08),
    (-0.95, 3.11), (-0.70, 3.09), (-0.45, 3.12), (-0.20, 3.08), (0.05, 3.11), (0.30, 3.09), (0.60, 3.12),
    (0.90, 3.08), (1.25, 3.11),
    (-2.55, 2.90), (-2.30, 2.92), (-2.05, 2.88), (-1.80, 2.91), (-1.55, 2.89), (-1.30, 2.92), (-1.05, 2.88),
    (-0.80, 2.91), (-0.55, 2.89), (-0.30, 2.92), (-0.05, 2.88), (0.20, 2.91), (0.45, 2.89), (0.75, 2.92),
    (1.05, 2.88),
    (-2.65, 2.70), (-2.35, 2.72), (-2.10, 2.68), (-1.85, 2.71), (-1.60, 2.69), (-1.35, 2.72), (-1.10, 2.68),
    (-0.85, 2.71), (-0.60, 2.69), (-0.35, 2.72), (-0.10, 2.68), (0.15, 2.71), (0.40, 2.69), (0.65, 2.72),
    (0.95, 2.68), (1.30, 2.71),
    (-2.45, 2.50), (-2.15, 2.52), (-1.90, 2.48), (-1.65, 2.51), (-1.40, 2.49), (-1.15, 2.52), (-0.90, 2.48),
    (-0.65, 2.51), (-0.40, 2.49), (-0.15, 2.52), (0.10, 2.48), (0.35, 2.51), (0.60, 2.49), (0.90, 2.52),
    (1.20, 2.48),
    (-2.55, 2.30), (-2.25, 2.32), (-2.00, 2.28), (-1.75, 2.31), (-1.50, 2.29), (-1.25, 2.32), (-1.00, 2.28),
    (-0.75, 2.31), (-0.50, 2.29), (-0.25, 2.32), (0.00, 2.28), (0.25, 2.31), (0.50, 2.29), (0.75, 2.32),
    (1.05, 2.28), (1.40, 2.31),
    (-2.35, 2.10), (-2.05, 2.12), (-1.80, 2.08), (-1.55, 2.11), (-1.30, 2.09), (-1.05, 2.12), (-0.80, 2.08),
    (-0.55, 2.11), (-0.30, 2.09), (-0.05, 2.12), (0.20, 2.08), (0.45, 2.11), (0.70, 2.09), (1.00, 2.12),
    (1.30, 2.08), (1.70, 2.11),
    (-2.40, 1.90), (-2.10, 1.92), (-1.85, 1.88), (-1.60, 1.91), (-1.35, 1.89), (-1.10, 1.92), (-0.85, 1.88),
    (-0.60, 1.91), (-0.35, 1.89), (-0.10, 1.92), (0.15, 1.88), (0.40, 1.91), (0.65, 1.89), (0.95, 1.92),
    (1.25, 1.88), (1.60, 1.91),
    (-2.25, 1.70), (-1.95, 1.72), (-1.65, 1.68), (-1.40, 1.71), (-1.15, 1.69), (-0.90, 1.72), (-0.65, 1.68),
    (-0.40, 1.71), (-0.15, 1.69), (0.10, 1.72), (0.35, 1.68), (0.60, 1.71), (0.90, 1.69), (1.20, 1.72),
    (1.55, 1.68),
    (-2.00, 1.50), (-1.70, 1.52), (-1.45, 1.48), (-1.20, 1.51), (-0.95, 1.49), (-0.70, 1.52), (-0.45, 1.48),
    (-0.20, 1.51), (0.05, 1.49), (0.30, 1.52), (0.60, 1.48), (0.90, 1.51), (1.25, 1.49),
    (-1.80, 1.30), (-1.45, 1.32), (-1.15, 1.28), (-0.85, 1.31), (-0.60, 1.29), (-0.35, 1.32), (-0.05, 1.28),
    (0.25, 1.31), (0.55, 1.29), (0.85, 1.32), (1.20, 1.28), (1.50, 1.31),
    (-1.60, 1.10), (-1.20, 1.12), (-0.85, 1.08), (-0.55, 1.11), (-0.25, 1.09), (0.05, 1.12), (0.35, 1.08),
    (0.70, 1.11), (1.05, 1.09), (1.40, 1.12),
    (-1.25, 0.90), (-0.80, 0.92), (-0.40, 0.88), (0.00, 0.91), (0.35, 0.89), (0.70, 0.92), (1.10, 0.88),
    (-0.90, 0.70), (-0.35, 0.72), (0.15, 0.68), (0.65, 0.71),
    (-2.40, 0.15), (-1.60, 0.17), (-0.80, 0.13), (0.00, 0.16),
    (-2.35, -0.10), (-1.85, -0.08), (-1.35, -0.12), (-0.85, -0.09), (-0.35, -0.11), (0.15, -0.08),
    (-2.65, -0.30), (-2.15, -0.28), (-1.65, -0.32), (-1.15, -0.29), (-0.65, -0.31), (-0.15, -0.28), (0.40, -0.32),
    (-2.45, -0.50), (-1.95, -0.48), (-1.45, -0.52), (-1.00, -0.49), (-0.55, -0.51), (-0.05, -0.48), (0.40, -0.52),
    (-2.75, -0.70), (-2.25, -0.68), (-1.80, -0.72), (-1.35, -0.69), (-0.90, -0.71), (-0.40, -0.68), (0.10, -0.72),
    (0.60, -0.69),
    (-2.55, -0.90), (-2.05, -0.88), (-1.60, -0.92), (-1.15, -0.89), (-0.70, -0.91), (-0.25, -0.88), (0.25, -0.92),
    (0.75, -0.89),
    (-2.85, -1.10), (-2.35, -1.08), (-1.90, -1.12), (-1.45, -1.09), (-1.00, -1.11), (-0.55, -1.08), (-0.05, -1.12),
    (0.40, -1.09),
    (-2.45, -1.30), (-2.00, -1.28), (-1.55, -1.32), (-1.10, -1.29), (-0.65, -1.31), (-0.20, -1.28), (0.35, -1.32),
    (0.85, -1.29),
    (-2.25, -1.50), (-1.80, -1.48), (-1.35, -1.52), (-0.90, -1.49), (-0.45, -1.51), (0.05, -1.48), (0.55, -1.52),
    (-2.05, -1.70), (-1.55, -1.68), (-1.10, -1.72), (-0.60, -1.69), (-0.15, -1.71), (0.35, -1.68), (0.85, -1.72),
    (-1.80, -1.90), (-1.30, -1.88), (-0.80, -1.92), (-0.35, -1.89), (0.15, -1.91), (0.65, -1.88),
]

fit_b_x = [-6.45, 2.83]
fit_b_y = [5.78, 0.13]

a_xticks = [-8, -6, -4, -2, 0, 2]
a_yticks = [-5, -4, -3, -2, -1, 0, 1, 2, 3]
b_xticks = [-5, 0, 5]
b_yticks = [-2, 0, 2, 4, 6]

# ---------------- figure ----------------
W, H = 854, 1183
fig = plt.figure(figsize=(W / 100, H / 100), dpi=100)

def fx(px):
    return px / W

def fy(py):
    return 1 - py / H

ax1 = fig.add_axes([fx(92), fy(602), (852 - 92) / W, (602 - 49) / H])
ax2 = fig.add_axes([fx(244), fy(1093), (701 - 244) / W, (1093 - 725) / H])

ms = 3.4

def style(ax, xt, yt, fs, xpad, ypad):
    ax.set_xticks(xt)
    ax.set_yticks(yt)
    ax.tick_params(direction='in', top=True, right=True, length=6, width=1,
                   labelsize=fs)
    ax.tick_params(axis='x', pad=xpad)
    ax.tick_params(axis='y', pad=ypad)
    for s in ax.spines.values():
        s.set_linewidth(1.6)
        s.set_color('black')
    ax.grid(True, color='black', linestyle=(0, (2, 4)), linewidth=1.1)
    ax.set_axisbelow(True)

def draw(ax, pts, color):
    xs = [p[0] for p in pts]
    ys = [p[1] for p in pts]
    ax.plot(xs, ys, 'o', color=color, ms=ms, mew=0, zorder=3)

draw(ax1, flood_pts, '#0000ff')
draw(ax1, ebb_core_pts, '#ff0000')
draw(ax1, ebb_fill_pts, '#ff0000')
draw(ax1, ebb_edge_pts, '#ff0000')
draw(ax1, green_pts, '#00ee00')
ax1.plot(fit_a_x, fit_a_y, color='black', lw=3.6, solid_capstyle='butt', zorder=4)
ax1.set_xlim(-9.48, 3.48)
ax1.set_ylim(-5.24, 3.49)
style(ax1, a_xticks, a_yticks, 17, 13, 5)

serif = ['Liberation Serif', 'DejaVu Serif']
ax1.text(-3.88, 2.05, 'Flood', color='#3a3aff', fontsize=33, fontweight='bold',
         family=serif, ha='left', va='baseline', zorder=5)
ax1.text(-6.80, -1.0, 'Ebb', color='#ff0000', fontsize=33, fontweight='bold',
         family=serif, ha='left', va='baseline', zorder=5)
ax1.text(0.2, -3.82, 'corr=0.69', color='black', fontsize=26, fontweight='bold',
         family=serif, ha='left', va='baseline', zorder=5)
ax1.text(0.2, -4.77, 'm=0.54', color='black', fontsize=26, fontweight='bold',
         family=serif, ha='left', va='baseline', zorder=5)
ax1.text(0.007, 0.953, 'a)', transform=ax1.transAxes, fontsize=17, fontweight='bold',
         ha='left', va='baseline', zorder=5)

draw(ax2, pg_core_pts, '#0000ff')
draw(ax2, pg_fill_pts, '#0000ff')
draw(ax2, pg_edge_pts, '#0000ff')
ax2.plot(fit_b_x, fit_b_y, color='black', lw=3.6, solid_capstyle='butt', zorder=4)
ax2.set_xlim(-9.73, 5.92)
ax2.set_ylim(-3.76, 7.96)
style(ax2, b_xticks, b_yticks, 16, 13, 5)
ax2.text(0.1, 6.53, 'm=-0.62', color='black', fontsize=26, fontweight='bold',
         family=serif, ha='left', va='baseline', zorder=5)
ax2.text(0.077, 0.897, 'b)', transform=ax2.transAxes, fontsize=17, fontweight='bold',
         ha='left', va='baseline', zorder=5)

# axis labels and exponent labels
lab = 19
fig.text(fx(31), fy(326), 'Bottom Friction [ms$^{-2}$]', rotation=90, fontsize=lab,
         ha='center', va='center')
fig.text(fx(473), fy(682), 'Dissipative Term [ms$^{-2}$]', fontsize=lab,
         ha='center', va='baseline')
fig.text(fx(178), fy(912), 'Pressure Gradient [ms$^{-2}$]', rotation=90, fontsize=lab,
         ha='center', va='center')
fig.text(fx(470), fy(1168), 'Residual Term [ms$^{-2}$]', fontsize=lab,
         ha='center', va='baseline')

off = 18
fig.text(fx(93), fy(36), 'x 10$^{-5}$', fontsize=off, ha='left', va='baseline')
fig.text(fx(783), fy(682), 'x 10$^{-5}$', fontsize=off, ha='left', va='baseline')
fig.text(fx(245), fy(713), 'x 10$^{-5}$', fontsize=off, ha='left', va='baseline')
fig.text(fx(632), fy(1169), 'x 10$^{-5}$', fontsize=off, ha='left', va='baseline')

fig.savefig('out.png', dpi=100)
